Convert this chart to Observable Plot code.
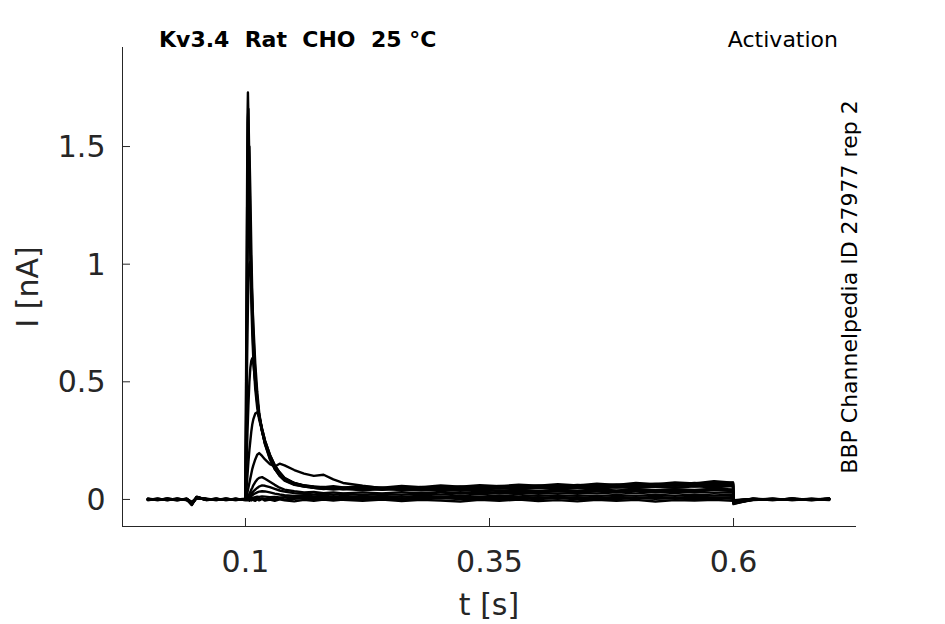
<!DOCTYPE html>
<html>
<head>
<meta charset="utf-8">
<script src="https://cdn.jsdelivr.net/npm/d3@7"></script>
<script src="https://cdn.jsdelivr.net/npm/@observablehq/plot@0.6"></script>
<style>
  html, body { margin: 0; padding: 0; background: #fff; }
  svg { display: block; }
</style>
</head>
<body>
<div id="chart"></div>
<script>
// ---- data ----
const t = [0, 0.01, 0.02, 0.03, 0.04, 0.045, 0.05, 0.06, 0.07, 0.08, 0.09, 0.0995,
  0.1, 0.101, 0.102, 0.1025, 0.103, 0.104, 0.105, 0.106, 0.107, 0.108, 0.11, 0.112, 0.114, 0.117, 0.12,
  0.125, 0.13, 0.135, 0.14, 0.15, 0.16, 0.17, 0.18, 0.19, 0.2,
  0.22, 0.24, 0.26, 0.28, 0.3, 0.32, 0.34, 0.36, 0.38, 0.4, 0.42, 0.44, 0.46, 0.48, 0.5, 0.52, 0.54, 0.56, 0.58, 0.5995,
  0.6, 0.62, 0.64, 0.66, 0.68, 0.698];

const sweep1 = [0.002, -0.003, 0.004, -0.002, 0.001, -0.02, 0.008, 0.002, -0.003, 0.003, -0.002, 0.001,
  0.01, 0.85, 1.6, 1.73, 1.62, 1.3, 1.02, 0.84, 0.70, 0.60, 0.47, 0.39, 0.34, 0.29, 0.24,
  0.18, 0.13, 0.10, 0.08, 0.062, 0.055, 0.05, 0.046, 0.05, 0.045,
  0.048, 0.043, 0.05, 0.046, 0.052, 0.047, 0.054, 0.05, 0.056, 0.052, 0.058, 0.055, 0.06, 0.057, 0.063, 0.06, 0.066, 0.062, 0.07, 0.066,
  -0.012, 0.002, -0.003, 0.003, -0.002, 0.004];
const sweep2 = [-0.002, 0.003, -0.003, 0.002, -0.001, -0.024, 0.012, -0.002, 0.003, -0.003, 0.002, -0.001,
  0.008, 0.7, 1.45, 1.62, 1.66, 1.42, 1.14, 0.92, 0.76, 0.64, 0.5, 0.41, 0.35, 0.295, 0.245,
  0.185, 0.14, 0.11, 0.088, 0.068, 0.058, 0.052, 0.05, 0.047, 0.05,
  0.044, 0.05, 0.046, 0.053, 0.048, 0.055, 0.05, 0.057, 0.053, 0.06, 0.055, 0.062, 0.058, 0.064, 0.06, 0.067, 0.063, 0.07, 0.066, 0.072,
  -0.018, -0.002, 0.003, -0.003, 0.002, -0.001];
const sweep3 = [0.001, -0.002, 0.002, -0.004, 0.003, -0.018, 0.006, 0.003, -0.002, 0.001, -0.003, 0.002,
  0.006, 0.5, 1.15, 1.36, 1.48, 1.50, 1.3, 1.06, 0.86, 0.71, 0.54, 0.43, 0.36, 0.3, 0.25,
  0.19, 0.145, 0.115, 0.09, 0.07, 0.06, 0.054, 0.048, 0.052, 0.047,
  0.051, 0.045, 0.052, 0.047, 0.054, 0.049, 0.056, 0.051, 0.058, 0.053, 0.06, 0.056, 0.063, 0.059, 0.066, 0.061, 0.068, 0.064, 0.074, 0.068,
  -0.008, 0.003, -0.002, 0.002, -0.003, 0.003];
const sweep4 = [-0.002, 0.001, -0.003, 0.002, -0.001, -0.021, 0.009, -0.002, 0.002, -0.001, 0.002, -0.003,
  0.007, 0.45, 0.95, 1.12, 1.2, 1.25, 1.12, 0.95, 0.8, 0.68, 0.53, 0.43, 0.355, 0.29, 0.24,
  0.18, 0.135, 0.108, 0.086, 0.067, 0.06, 0.055, 0.052, 0.056, 0.051,
  0.055, 0.05, 0.057, 0.052, 0.059, 0.054, 0.061, 0.056, 0.063, 0.058, 0.065, 0.06, 0.067, 0.062, 0.07, 0.065, 0.072, 0.068, 0.078, 0.071,
  -0.02, 0.001, -0.002, 0.002, -0.001, 0.003];
const sweep5 = [-0.003, 0.002, -0.001, 0.003, -0.002, -0.015, 0.01, -0.003, 0.002, -0.002, 0.003, -0.002,
  0.005, 0.35, 0.7, 0.82, 0.92, 1.0, 1.01, 0.95, 0.85, 0.75, 0.58, 0.46, 0.37, 0.29, 0.235,
  0.175, 0.13, 0.105, 0.085, 0.066, 0.058, 0.05, 0.053, 0.047, 0.05,
  0.043, 0.049, 0.044, 0.05, 0.046, 0.052, 0.047, 0.054, 0.049, 0.056, 0.051, 0.058, 0.053, 0.06, 0.055, 0.062, 0.058, 0.065, 0.06, 0.064,
  -0.014, -0.003, 0.002, -0.002, 0.003, -0.002];
const sweep6 = [0.003, -0.001, 0.002, -0.002, 0.002, -0.022, 0.009, 0.001, -0.003, 0.002, -0.001, 0.003,
  0.004, 0.12, 0.28, 0.34, 0.40, 0.50, 0.56, 0.59, 0.60, 0.58, 0.50, 0.42, 0.36, 0.29, 0.235,
  0.17, 0.13, 0.1, 0.082, 0.064, 0.055, 0.049, 0.044, 0.048, 0.043,
  0.047, 0.041, 0.047, 0.043, 0.049, 0.044, 0.05, 0.046, 0.052, 0.048, 0.054, 0.05, 0.056, 0.052, 0.058, 0.054, 0.06, 0.056, 0.062, 0.058,
  -0.01, 0.002, -0.002, 0.003, -0.001, 0.002];
const sweep7 = [-0.001, 0.003, -0.002, 0.001, -0.003, -0.012, 0.007, -0.001, 0.002, -0.003, 0.001, -0.002,
  0.003, 0.04, 0.10, 0.13, 0.16, 0.21, 0.25, 0.29, 0.32, 0.34, 0.365, 0.37, 0.35, 0.30, 0.25,
  0.19, 0.145, 0.115, 0.092, 0.07, 0.058, 0.05, 0.046, 0.042, 0.045,
  0.039, 0.044, 0.04, 0.045, 0.041, 0.046, 0.042, 0.047, 0.043, 0.049, 0.045, 0.05, 0.046, 0.052, 0.048, 0.054, 0.05, 0.056, 0.052, 0.057,
  -0.015, -0.001, 0.003, -0.002, 0.002, -0.003];
const sweep8 = [0.002, -0.002, 0.003, -0.001, 0.002, -0.01, 0.005, 0.002, -0.002, 0.003, -0.002, 0.001,
  0.002, 0.01, 0.03, 0.04, 0.05, 0.07, 0.09, 0.11, 0.13, 0.145, 0.17, 0.19, 0.197, 0.185, 0.17,
  0.15, 0.14, 0.152, 0.145, 0.125, 0.11, 0.1, 0.105, 0.085, 0.07,
  0.058, 0.048, 0.043, 0.038, 0.042, 0.037, 0.041, 0.036, 0.04, 0.036, 0.041, 0.037, 0.042, 0.038, 0.043, 0.039, 0.044, 0.04, 0.046, 0.042,
  -0.006, 0.003, -0.001, 0.002, -0.002, 0.001];
const sweep9 = [-0.002, 0.001, -0.003, 0.002, -0.001, -0.016, 0.011, -0.002, 0.001, -0.001, 0.002, -0.003,
  0.002, 0.003, 0.01, 0.013, 0.016, 0.024, 0.032, 0.042, 0.05, 0.06, 0.074, 0.085, 0.092, 0.095, 0.088,
  0.075, 0.062, 0.05, 0.042, 0.035, 0.03, 0.032, 0.027, 0.03, 0.026,
  0.03, 0.026, 0.031, 0.027, 0.032, 0.028, 0.033, 0.029, 0.034, 0.03, 0.035, 0.031, 0.036, 0.032, 0.037, 0.033, 0.038, 0.034, 0.04, 0.036,
  -0.008, -0.002, 0.002, -0.003, 0.001, 0.002];
const sweep10 = [0.002, -0.002, 0.001, -0.003, 0.002, -0.013, 0.007, -0.001, 0.002, -0.002, 0.001, -0.002,
  0.001, 0.002, 0.006, 0.008, 0.01, 0.014, 0.019, 0.024, 0.029, 0.034, 0.042, 0.049, 0.055, 0.06, 0.058,
  0.052, 0.045, 0.038, 0.033, 0.027, 0.024, 0.021, 0.025, 0.02, 0.024,
  0.019, 0.023, 0.02, 0.025, 0.021, 0.026, 0.022, 0.027, 0.023, 0.028, 0.024, 0.029, 0.025, 0.03, 0.026, 0.031, 0.027, 0.032, 0.028, 0.03,
  -0.005, 0.001, -0.002, 0.002, -0.002, 0.001];
const sweep11 = [0.001, -0.003, 0.001, -0.002, 0.003, -0.02, 0.006, -0.001, 0.003, -0.002, 0.001, -0.001,
  0.001, 0.002, 0.004, 0.005, 0.006, 0.009, 0.012, 0.015, 0.018, 0.021, 0.026, 0.03, 0.033, 0.035, 0.034,
  0.03, 0.025, 0.021, 0.018, 0.015, 0.017, 0.013, 0.016, 0.012, 0.015,
  0.011, 0.015, 0.011, 0.016, 0.012, 0.016, 0.012, 0.017, 0.013, 0.018, 0.014, 0.018, 0.014, 0.019, 0.015, 0.02, 0.016, 0.021, 0.017, 0.02,
  -0.004, 0.002, -0.002, 0.001, -0.003, 0.002];
const sweep12 = [-0.001, 0.002, -0.002, 0.003, -0.002, -0.014, 0.008, 0.001, -0.002, 0.002, -0.003, 0.002,
  0.001, 0.002, 0.003, 0.002, 0.004, 0.003, 0.005, 0.006, 0.007, 0.008, 0.01, 0.012, 0.011, 0.013, 0.012,
  0.01, 0.011, 0.009, 0.01, 0.008, 0.01, 0.007, 0.009, 0.006, 0.009,
  0.005, 0.008, 0.004, 0.008, 0.005, 0.009, 0.005, 0.009, 0.006, 0.01, 0.006, 0.01, 0.006, 0.011, 0.007, 0.011, 0.007, 0.012, 0.008, 0.01,
  -0.003, 0.001, -0.002, 0.003, -0.001, 0.001];
const sweep13 = [0.002, -0.001, 0.003, -0.003, 0.001, -0.019, 0.01, -0.003, 0.001, -0.002, 0.002, -0.002,
  -0.002, -0.004, 0.001, -0.003, 0.002, -0.005, 0.001, -0.004, 0.002, -0.003, -0.006, 0.001, -0.004, 0.002, -0.005,
  -0.001, -0.006, 0.0, -0.004, -0.008, -0.002, -0.006, 0.0, -0.005, -0.001,
  -0.006, 0.0, -0.007, -0.001, -0.005, -0.009, -0.002, -0.006, 0.0, -0.007, -0.003, -0.008, -0.001, -0.006, -0.002, -0.009, -0.003, -0.005, -0.001, -0.006,
  -0.01, 0.001, -0.003, 0.002, -0.002, 0.003];
const sweep14 = [-0.003, 0.001, -0.002, 0.002, -0.003, -0.017, 0.009, 0.002, -0.001, 0.003, -0.002, 0.0,
  0.0, 0.002, 0.004, 0.001, 0.003, 0.0, 0.004, 0.002, 0.005, 0.001, 0.003, 0.006, 0.002, 0.004, 0.001,
  0.005, 0.002, 0.004, 0.0, 0.003, 0.005, 0.001, 0.004, 0.002, 0.005,
  0.001, 0.004, 0.0, 0.003, 0.006, 0.002, 0.004, 0.001, 0.005, 0.002, 0.006, 0.001, 0.004, 0.002, 0.006, 0.003, 0.005, 0.001, 0.006, 0.003,
  -0.005, 0.002, -0.001, 0.002, -0.003, 0.001];

const sweeps = [sweep1, sweep2, sweep3, sweep4, sweep5, sweep6, sweep7, sweep8, sweep9, sweep10, sweep11, sweep12, sweep13, sweep14];

const xTicks = [0.1, 0.35, 0.6];
const yTicks = [0, 0.5, 1, 1.5];
const xDomain = [-0.026, 0.726];
const yDomain = [-0.115, 1.921];

const titleText = "Kv3.4\u00a0\u00a0Rat\u00a0\u00a0CHO\u00a0\u00a025 °C";
const protocolText = "Activation";
const sideText = "BBP Channelpedia ID 27977 rep 2";
const xLabel = "t [s]";
const yLabel = "I [nA]";

// ---- table ----
const rows = [];
sweeps.forEach((s, k) => s.forEach((v, i) => rows.push({t: t[i], I: v, sweep: k})));

// ---- layout ----
const W = 945, H = 624;
const mL = 122, mR = 89, mT = 47, mB = 98;
const plotW = W - mL - mR, plotH = H - mT - mB;
const axisColor = "#262626";
const tickLen = 8;

const svg = Plot.plot({
  width: W,
  height: H,
  marginLeft: mL,
  marginRight: mR,
  marginTop: mT,
  marginBottom: mB,
  style: {fontFamily: "DejaVu Sans", background: "#fff", color: axisColor},
  x: {domain: xDomain, axis: null},
  y: {domain: yDomain, axis: null},
  marks: [
    Plot.line(rows, {x: "t", y: "I", z: "sweep", stroke: "#000", strokeWidth: 2.4, strokeLinejoin: "round"}),
    // axis lines
    Plot.ruleX(xDomain.slice(0, 1), {stroke: axisColor, strokeWidth: 1}),
    Plot.ruleY(yDomain.slice(0, 1), {stroke: axisColor, strokeWidth: 1}),
    // inward ticks
    Plot.ruleX(xTicks, {stroke: axisColor, strokeWidth: 1, insetTop: plotH - tickLen}),
    Plot.ruleY(yTicks, {stroke: axisColor, strokeWidth: 1, insetRight: plotW - tickLen}),
    Plot.axisX({ticks: xTicks, tickSize: 0, tickPadding: 24, fontSize: 30, fill: axisColor, label: null, tickFormat: d => String(d)}),
    Plot.axisY({ticks: yTicks, tickSize: 0, tickPadding: 17, fontSize: 30, fill: axisColor, label: null, tickFormat: d => String(d), dy: 1})
  ]
});

const s = d3.select(svg);
s.append("text").attr("x", 159).attr("y", 47).attr("font-size", 22).attr("font-weight", "bold")
  .attr("text-anchor", "start").attr("fill", "#000").attr("font-family", "DejaVu Sans").text(titleText);
s.append("text").attr("x", 838).attr("y", 47).attr("font-size", 22).attr("text-anchor", "end")
  .attr("fill", "#000").attr("font-family", "DejaVu Sans").text(protocolText);
s.append("text").attr("transform", "translate(857,287) rotate(-90)").attr("font-size", 22).attr("text-anchor", "middle")
  .attr("fill", "#000").attr("font-family", "DejaVu Sans").text(sideText);
s.append("text").attr("x", 489).attr("y", 615).attr("font-size", 30).attr("text-anchor", "middle")
  .attr("fill", axisColor).attr("font-family", "DejaVu Sans").text(xLabel);
s.append("text").attr("transform", "translate(38,287) rotate(-90)").attr("font-size", 30).attr("text-anchor", "middle")
  .attr("fill", axisColor).attr("font-family", "DejaVu Sans").text(yLabel);

document.getElementById("chart").appendChild(svg);
</script>
</body>
</html>
